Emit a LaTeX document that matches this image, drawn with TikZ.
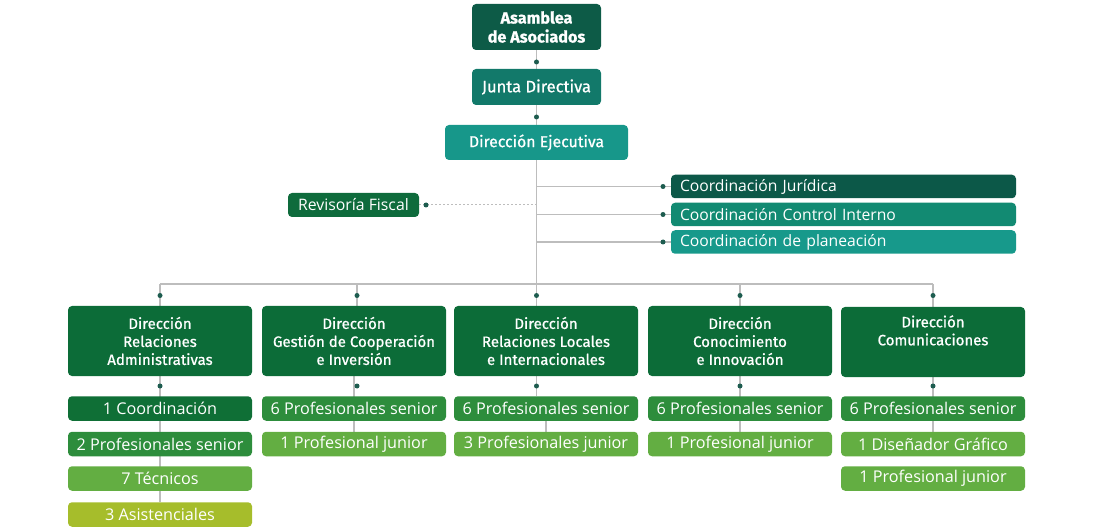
\documentclass[tikz,border=0pt]{standalone}
\usepackage{fontspec}
\setmainfont{Open Sans}
\newfontfamily\hdfont[FakeBold=0.8]{Fira Sans}
\usetikzlibrary{backgrounds}
\definecolor{cAsam}{HTML}{0D5B47}
\definecolor{cJunta}{HTML}{12796A}
\definecolor{cEjec}{HTML}{17978A}
\definecolor{cJur}{HTML}{0C5848}
\definecolor{cCtrl}{HTML}{128A72}
\definecolor{cPlan}{HTML}{17998B}
\definecolor{cRev}{HTML}{0E6B3C}
\definecolor{cDir}{HTML}{0C6C38}
\definecolor{cCoord}{HTML}{0F6F36}
\definecolor{cSen}{HTML}{2D8D3C}
\definecolor{cJun}{HTML}{63AE42}
\definecolor{cAsis}{HTML}{A6BD2B}
\definecolor{cLine}{HTML}{BDBDBD}
\definecolor{cDot}{HTML}{1D5C4F}
\tikzset{
  box/.style={rounded corners=4pt, text=white, inner sep=0pt, align=center},
  hbox/.style={box, font=\hdfont\fontsize{15.8}{18}\selectfont},
  dbox/.style={box, minimum width=184pt, minimum height=70pt, fill=cDir, font=\hdfont\fontsize{15}{18}\selectfont},
  sbox/.style={box, minimum width=184pt, minimum height=24.5pt, font=\fontsize{16.2}{18}\selectfont},
  cbox/.style={box, minimum width=345pt, minimum height=23.5pt, text width=327pt, align=left, font=\fontsize{15.7}{18}\selectfont},
  conn/.style={draw=cLine, line width=1.2pt},
  dotc/.style={circle, fill=cDot, inner sep=0pt, minimum size=5pt},
}
\begin{document}
\begin{tikzpicture}[x=1pt, y=-1pt]
\useasboundingbox (0,0) rectangle (1095,529);
% top chain
\node[hbox, fill=cAsam, minimum width=129pt, minimum height=46pt, font=\hdfont\bfseries\fontsize{16.2}{19}\selectfont] (asam) at (536.5,27) {Asamblea\\de Asociados};
\node[hbox, fill=cJunta, minimum width=129pt, minimum height=36pt, font=\hdfont\fontsize{16.5}{18}\selectfont] (junta) at (536.5,87) {Junta Directiva};
\node[hbox, fill=cEjec, minimum width=183pt, minimum height=35pt] (ejec) at (536.5,142.5) {Dirección Ejecutiva};
% coordinations
\node[cbox, fill=cJur] (jur) at (843.5,186.5) {Coordinación Jurídica};
\node[cbox, fill=cCtrl] (ctrl) at (843.5,214.5) {Coordinación Control Interno};
\node[cbox, fill=cPlan] (plan) at (843.5,242) {Coordinación de planeación};
\node[box, fill=cRev, minimum width=131pt, minimum height=24pt, font=\fontsize{15.8}{18}\selectfont] (rev) at (353.5,205) {Revisoría Fiscal};
% directions
\node[dbox] (d1) at (160,341) {Dirección\\Relaciones\\Administrativas};
\node[dbox] (d2) at (354,341) {Dirección\\Gestión de Cooperación\\e Inversión};
\node[dbox] (d3) at (546,341) {Dirección\\Relaciones Locales\\e Internacionales};
\node[dbox] (d4) at (740,341) {Dirección\\Conocimiento\\e Innovación};
\node[dbox] (d5) at (933,342) {Dirección\\Comunicaciones\\\strut};
% staff
\node[sbox, fill=cCoord] (s11) at (160,408.5) {1 Coordinación};
\node[sbox, fill=cSen] (s12) at (160,444) {2 Profesionales senior};
\node[sbox, fill=cJun] (s13) at (160,478.5) {7 Técnicos};
\node[sbox, fill=cAsis] (s14) at (160,514.5) {3 Asistenciales};
\node[sbox, fill=cSen] (s21) at (354,408.5) {6 Profesionales senior};
\node[sbox, fill=cJun] (s22) at (354,444) {1 Profesional junior};
\node[sbox, fill=cSen] (s31) at (546,408.5) {6 Profesionales senior};
\node[sbox, fill=cJun] (s32) at (546,444) {3 Profesionales junior};
\node[sbox, fill=cSen] (s41) at (740,408.5) {6 Profesionales senior};
\node[sbox, fill=cJun] (s42) at (740,444) {1 Profesional junior};
\node[sbox, fill=cSen] (s51) at (933,408.5) {6 Profesionales senior};
\node[sbox, fill=cJun] (s52) at (933,444) {1 Diseñador Gráfico};
\node[sbox, fill=cJun] (s53) at (933,478.5) {1 Profesional junior};
% coordinates
\coordinate (trunk) at (536.5,284);
\coordinate (b1) at (160,284);
\coordinate (b2) at (357,284);
\coordinate (b3) at (536.5,284);
\coordinate (b4) at (740,284);
\coordinate (b5) at (933,284);
\coordinate (jrev) at (536.5,205);
\begin{scope}[on background layer]
\draw[conn] (asam) -- (junta);
\draw[conn] (junta) -- (ejec);
\draw[conn] (ejec.south) -- (trunk);
\draw[conn] (ejec.south |- jur.west) -- (jur.west);
\draw[conn] (ejec.south |- ctrl.west) -- (ctrl.west);
\draw[conn] (ejec.south |- plan.west) -- (plan.west);
\draw[draw=cLine, line width=1pt, dash pattern=on 2pt off 2pt] (rev.east) -- (jrev);
\draw[conn] (b1) -- (b5);
\draw[conn] (b1) -- (b1 |- d1.north);
\draw[conn] (b2) -- (b2 |- d2.north);
\draw[conn] (b3) -- (b3 |- d3.north);
\draw[conn] (b4) -- (b4 |- d4.north);
\draw[conn] (b5) -- (b5 |- d5.north);
\draw[conn] (d1) -- (s14);
\draw[conn] (d2) -- (s22);
\draw[conn] (b3 |- d3.south) -- (b3 |- s31.north);
\draw[conn] (s31) -- (s32);
\draw[conn] (d4) -- (s42);
\draw[conn] (d5) -- (s52);
\end{scope}
% dots
\node[dotc] (p1) at (536.5,62) {};
\node[dotc] (p2) at (536.5,117) {};
\node[dotc] (p3) at (663,186.5) {};
\node[dotc] (p4) at (663,214.5) {};
\node[dotc] (p5) at (663,242) {};
\node[dotc] (p6) at (426,205) {};
\foreach \x/\n in {160/1,357/2,536.5/3,740/4,933/5}{
  \node[dotc] (u\n) at (\x,295.5) {};
  \node[dotc] (l\n) at (\x,386) {};
}
\end{tikzpicture}
\end{document}
